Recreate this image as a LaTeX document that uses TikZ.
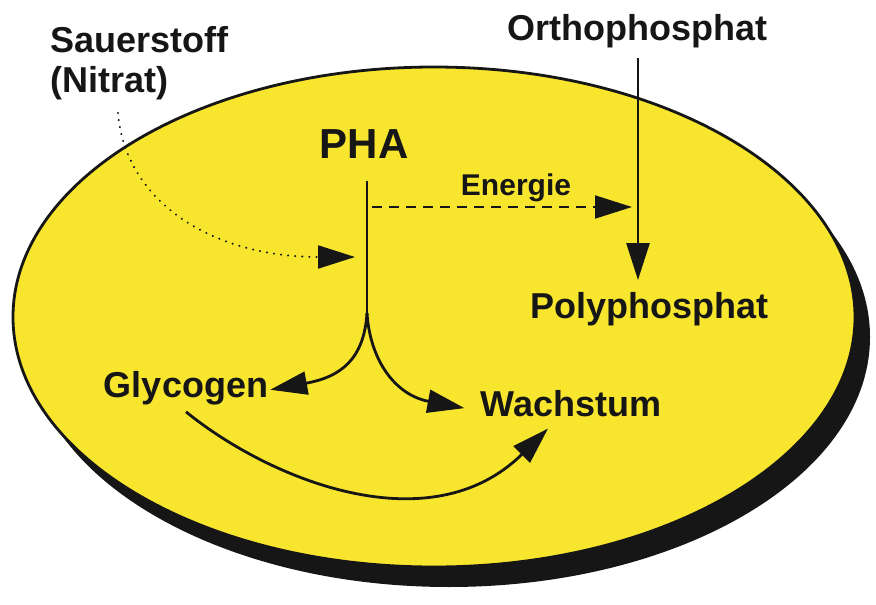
\documentclass[tikz,border=0pt]{standalone}
\usepackage{fontspec}
\setmainfont{Liberation Sans}
\usepackage{xcolor}
\usepackage{tikz}
\usetikzlibrary{arrows.meta,calc}
\definecolor{cellyellow}{RGB}{248,230,46}
\definecolor{inkblack}{RGB}{22,22,22}

\begin{document}
\begin{tikzpicture}[x=1pt, y=-1pt,
  lbl/.style={font=\fontsize{36}{40}\selectfont\bfseries, text=inkblack, inner sep=2pt},
  biglbl/.style={lbl, font=\fontsize{42}{46}\selectfont\bfseries},
  smalllbl/.style={lbl, font=\fontsize{30}{34}\selectfont\bfseries},
  arr/.style={-{Triangle[length=37pt, width=23pt]}, line width=2.8pt, draw=inkblack},
  dsharr/.style={arr, line width=1.8pt, dash pattern=on 10pt off 7pt},
  dotarr/.style={arr, line width=2.2pt, dash pattern=on 0.1pt off 7pt, line cap=round},
]
\useasboundingbox (0,0) rectangle (876,605);
\fill[inkblack, shift={(15,20)}] (434,317) ellipse [x radius=421, y radius=250];
\draw[fill=cellyellow, draw=inkblack, line width=2.8pt] (434,317) ellipse [x radius=421, y radius=250];
\node[lbl, align=left, anchor=west] (sauer) at (48,63) {Sauerstoff\\(Nitrat)};
\node[lbl, anchor=base] (ortho) at (637,40) {Orthophosphat};
\node[biglbl, anchor=base] (pha) at (364,158) {PHA};
\node[smalllbl, anchor=base] (energ) at (516,195) {Energie};
\node[lbl, anchor=base] (poly) at (649,318) {Polyphosphat};
\node[lbl, anchor=base] (glyc) at (186,397) {Glycogen};
\node[lbl, anchor=base] (wach) at (571,416) {Wachstum};
\coordinate (phatop) at (367,181);
\coordinate (split) at (367,313);
\coordinate (o2start) at (118,113);
\coordinate (o2tip) at (355,257);
\coordinate (estart) at (372,207);
\coordinate (etip) at (632,207);
\coordinate (orthotop) at (638,58);
\coordinate (polytip) at (638,280);
\draw[line width=2.8pt, draw=inkblack] (phatop) -- (split);
\draw[arr] (split) .. controls (364,360) and (340,377) .. ([yshift=-2pt]glyc.east);
\draw[arr] (split) .. controls (370,360) and (395,395) .. ([xshift=-14pt, yshift=-5pt]wach.west);
\draw[arr] ([yshift=-5pt]glyc.south) .. controls (270,480) and (430,545) .. ([xshift=-23pt, yshift=-10pt]wach.south);
\draw[arr] (orthotop) -- (polytip);
\draw[dsharr] (estart) -- (etip);
\draw[dotarr] (o2start) .. controls (125,200) and (210,257) .. (o2tip);
\end{tikzpicture}
\end{document}
